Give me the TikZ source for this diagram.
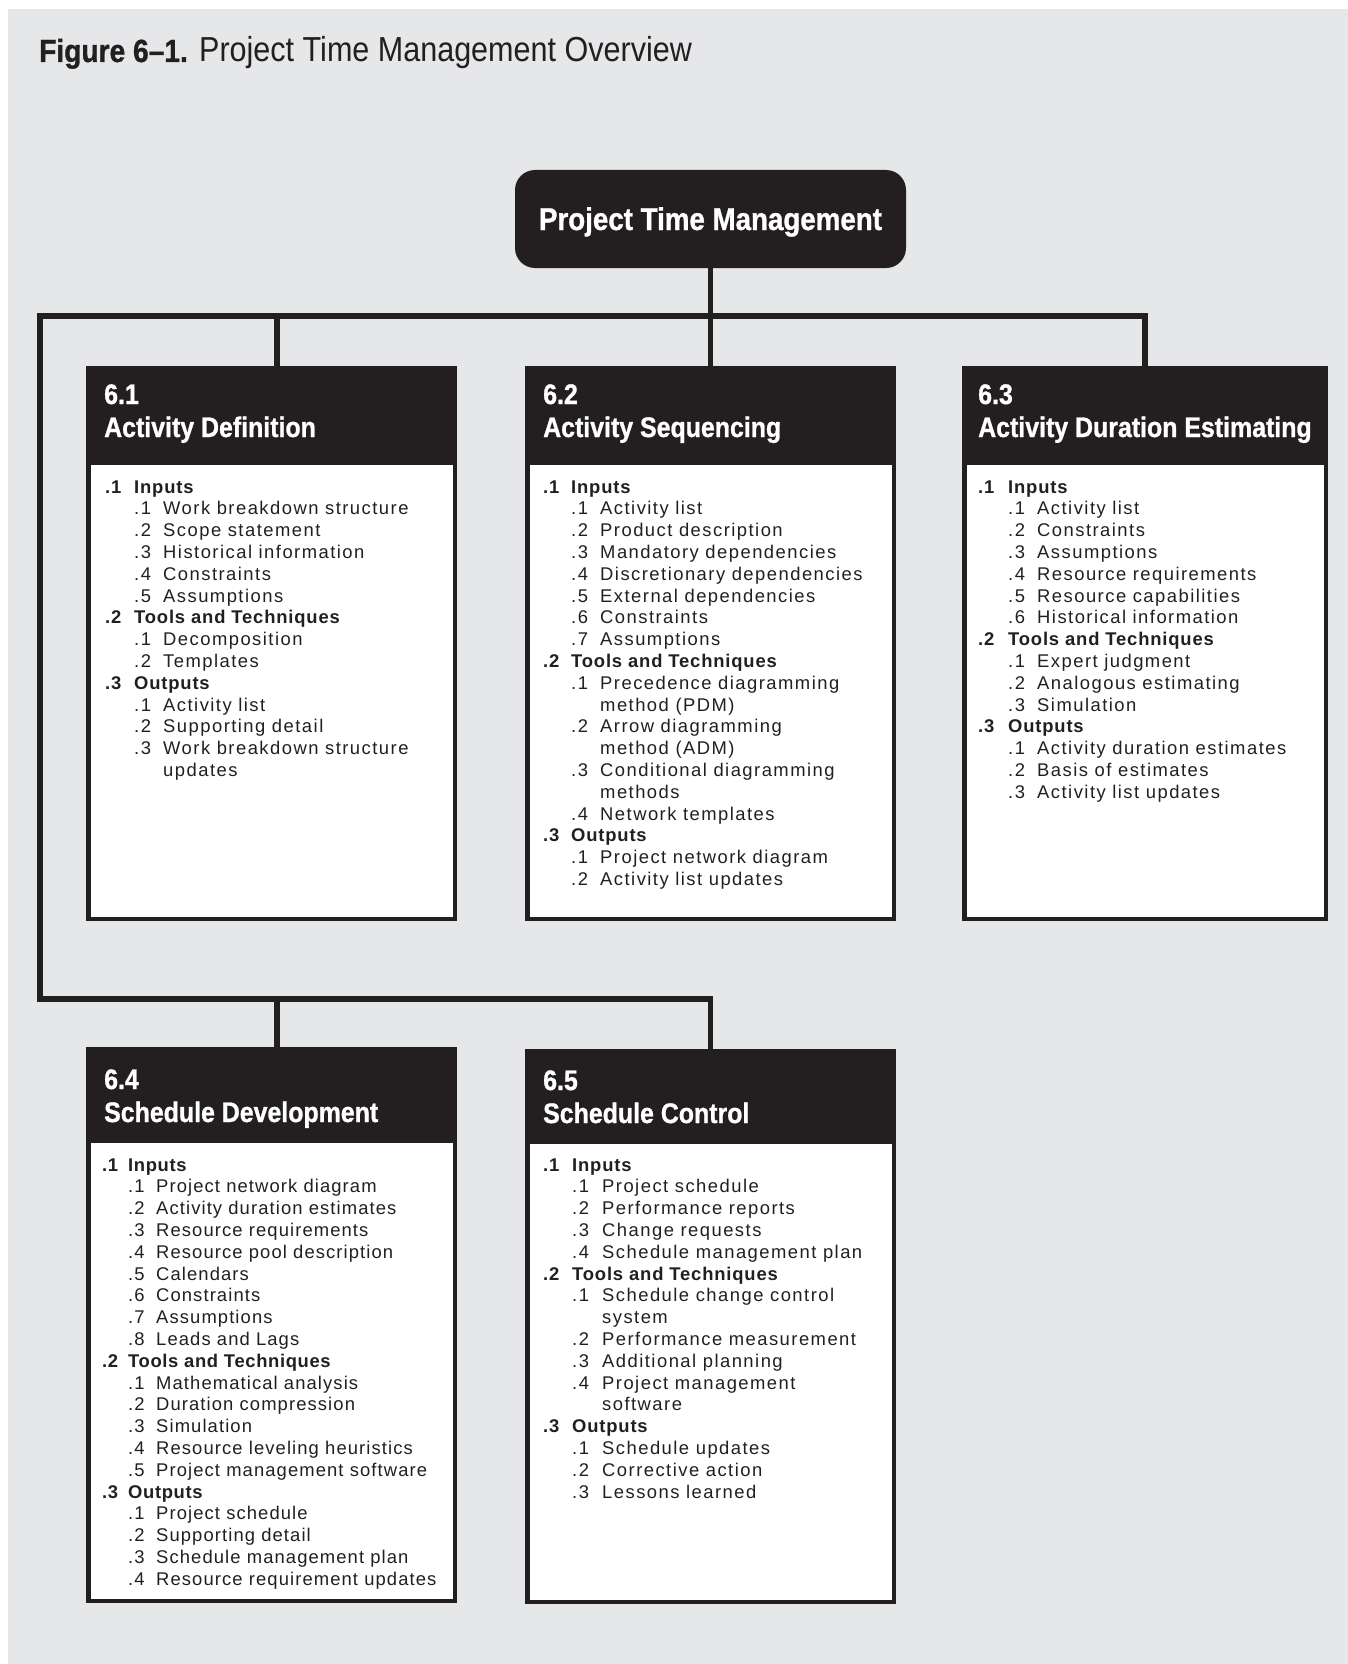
\documentclass[tikz,border=0pt]{standalone}
\usepackage{fontspec}
\usepackage{array}
\setmainfont{Liberation Sans}
\newfontfamily\condfont[FakeStretch=0.88, BoldFeatures={FakeBold=1}]{Liberation Sans}
\newfontfamily\bodyA[LetterSpace=8, BoldFeatures={LetterSpace=4.5}]{Liberation Sans}
\newfontfamily\bodyB[LetterSpace=6, BoldFeatures={LetterSpace=3.5}]{Liberation Sans}
\definecolor{ink}{HTML}{231F20}
\definecolor{bggray}{HTML}{E6E7E8}
\newcommand{\Lh}[2]{\textbf{#1}&\multicolumn{2}{@{}l@{}}{\textbf{#2}}\\}
\newcommand{\Li}[2]{&#1&#2\\}
\newcommand{\Lc}[1]{&&#1\\}
\tikzset{
  conn/.style={draw=ink, line width=5.5pt, line join=miter, line cap=butt},
  procbox/.style={draw=ink, fill=white, line width=4.5pt, inner sep=0pt, outer sep=0pt},
  hdrtext/.style={anchor=base west, inner sep=0pt, text=white, font=\condfont\bfseries\fontsize{28.3}{33}\selectfont},
  bodytext/.style={anchor=base west, inner sep=0pt, text=ink, font=\bodyA\fontsize{18.4}{21.8}\selectfont},
  bodytextB/.style={anchor=base west, inner sep=0pt, text=ink, font=\bodyB\fontsize{18.4}{21.8}\selectfont},
  topbox/.style={fill=ink, rounded corners=20pt, inner sep=0pt, text=white,
     minimum width=391pt, minimum height=98pt, text height=22pt, text depth=0pt,
     font=\condfont\bfseries\fontsize{31.5}{36}\selectfont}
}
\begin{document}
\begin{tikzpicture}[x=1pt,y=-1pt]
\useasboundingbox (0,0) rectangle (1348,1664);
\fill[white] (0,0) rectangle (1348,1664);
\fill[bggray] (8,9) rectangle (1348,1664);

% title
\node[anchor=base west, inner sep=0pt, text=ink, font=\condfont\fontsize{34.7}{38}\selectfont] (title) at (39,62)
  {{\fontsize{32}{38}\selectfont\bfseries Figure 6–1.} Project Time Management Overview};

% top box
\node[topbox] (ptm) at (710.5,219) {Project Time Management};

% process boxes
\node[procbox, minimum width=366.5pt, minimum height=550.5pt] (b61) at (271.5,643.5) {};
\node[procbox, minimum width=366.5pt, minimum height=550.5pt] (b62) at (710.5,643.5) {};
\node[procbox, minimum width=361.5pt, minimum height=550.5pt] (b63) at (1145,643.5) {};
\node[procbox, minimum width=366.5pt, minimum height=551.5pt] (b64) at (271.5,1325) {};
\node[procbox, minimum width=366.5pt, minimum height=550.5pt] (b65) at (710.5,1326.5) {};

\fill[ink] (86,366) rectangle (457,465);
\fill[ink] (525,366) rectangle (896,465);
\fill[ink] (962,366) rectangle (1328,465);
\fill[ink] (86,1047) rectangle (457,1143);
\fill[ink] (525,1049) rectangle (896,1144);

% connectors
\coordinate (busL) at (40,316);
\coordinate (busLL) at (40,999);
\coordinate (j61) at (277,316);
\coordinate (j64) at (277,999);
\draw[conn] (ptm.south) -- (b62.north);
\draw[conn] (b63.north) |- (busL) -- (busLL) -| (b65.north);
\draw[conn] (j61) -- (j61 |- b61.north);
\draw[conn] (j64) -- (j64 |- b64.north);

% headers
\node[hdrtext] (h61n) at (104,404) {6.1};
\node[hdrtext] (h61t) at (104,437) {Activity Definition};
\node[hdrtext] (h62n) at (543,404) {6.2};
\node[hdrtext] (h62t) at (543,437) {Activity Sequencing};
\node[hdrtext] (h63n) at (978,404) {6.3};
\node[hdrtext] (h63t) at (978,437) {Activity Duration Estimating};
\node[hdrtext] (h64n) at (104,1089) {6.4};
\node[hdrtext] (h64t) at (104,1122) {Schedule Development};
\node[hdrtext] (h65n) at (543,1090) {6.5};
\node[hdrtext] (h65t) at (543,1123) {Schedule Control};

% bodies
\node[bodytext] (t61) at (105,493) {\begin{tabular}[t]{@{}p{29pt}@{}p{29pt}@{}l@{}}
\Lh{.1}{Inputs}
\Li{.1}{Work breakdown structure}
\Li{.2}{Scope statement}
\Li{.3}{Historical information}
\Li{.4}{Constraints}
\Li{.5}{Assumptions}
\Lh{.2}{Tools and Techniques}
\Li{.1}{Decomposition}
\Li{.2}{Templates}
\Lh{.3}{Outputs}
\Li{.1}{Activity list}
\Li{.2}{Supporting detail}
\Li{.3}{Work breakdown structure}
\Lc{updates}
\end{tabular}};

\node[bodytext] (t62) at (543,493) {\begin{tabular}[t]{@{}p{28pt}@{}p{29pt}@{}l@{}}
\Lh{.1}{Inputs}
\Li{.1}{Activity list}
\Li{.2}{Product description}
\Li{.3}{Mandatory dependencies}
\Li{.4}{Discretionary dependencies}
\Li{.5}{External dependencies}
\Li{.6}{Constraints}
\Li{.7}{Assumptions}
\Lh{.2}{Tools and Techniques}
\Li{.1}{Precedence diagramming}
\Lc{method (PDM)}
\Li{.2}{Arrow diagramming}
\Lc{method (ADM)}
\Li{.3}{Conditional diagramming}
\Lc{methods}
\Li{.4}{Network templates}
\Lh{.3}{Outputs}
\Li{.1}{Project network diagram}
\Li{.2}{Activity list updates}
\end{tabular}};

\node[bodytext] (t63) at (978,493) {\begin{tabular}[t]{@{}p{30pt}@{}p{29pt}@{}l@{}}
\Lh{.1}{Inputs}
\Li{.1}{Activity list}
\Li{.2}{Constraints}
\Li{.3}{Assumptions}
\Li{.4}{Resource requirements}
\Li{.5}{Resource capabilities}
\Li{.6}{Historical information}
\Lh{.2}{Tools and Techniques}
\Li{.1}{Expert judgment}
\Li{.2}{Analogous estimating}
\Li{.3}{Simulation}
\Lh{.3}{Outputs}
\Li{.1}{Activity duration estimates}
\Li{.2}{Basis of estimates}
\Li{.3}{Activity list updates}
\end{tabular}};

\node[bodytextB] (t64) at (102,1171) {\begin{tabular}[t]{@{}p{26pt}@{}p{28pt}@{}l@{}}
\Lh{.1}{Inputs}
\Li{.1}{Project network diagram}
\Li{.2}{Activity duration estimates}
\Li{.3}{Resource requirements}
\Li{.4}{Resource pool description}
\Li{.5}{Calendars}
\Li{.6}{Constraints}
\Li{.7}{Assumptions}
\Li{.8}{Leads and Lags}
\Lh{.2}{Tools and Techniques}
\Li{.1}{Mathematical analysis}
\Li{.2}{Duration compression}
\Li{.3}{Simulation}
\Li{.4}{Resource leveling heuristics}
\Li{.5}{Project management software}
\Lh{.3}{Outputs}
\Li{.1}{Project schedule}
\Li{.2}{Supporting detail}
\Li{.3}{Schedule management plan}
\Li{.4}{Resource requirement updates}
\end{tabular}};

\node[bodytext] (t65) at (543,1171) {\begin{tabular}[t]{@{}p{29pt}@{}p{30pt}@{}l@{}}
\Lh{.1}{Inputs}
\Li{.1}{Project schedule}
\Li{.2}{Performance reports}
\Li{.3}{Change requests}
\Li{.4}{Schedule management plan}
\Lh{.2}{Tools and Techniques}
\Li{.1}{Schedule change control}
\Lc{system}
\Li{.2}{Performance measurement}
\Li{.3}{Additional planning}
\Li{.4}{Project management}
\Lc{software}
\Lh{.3}{Outputs}
\Li{.1}{Schedule updates}
\Li{.2}{Corrective action}
\Li{.3}{Lessons learned}
\end{tabular}};
\end{tikzpicture}
\end{document}
